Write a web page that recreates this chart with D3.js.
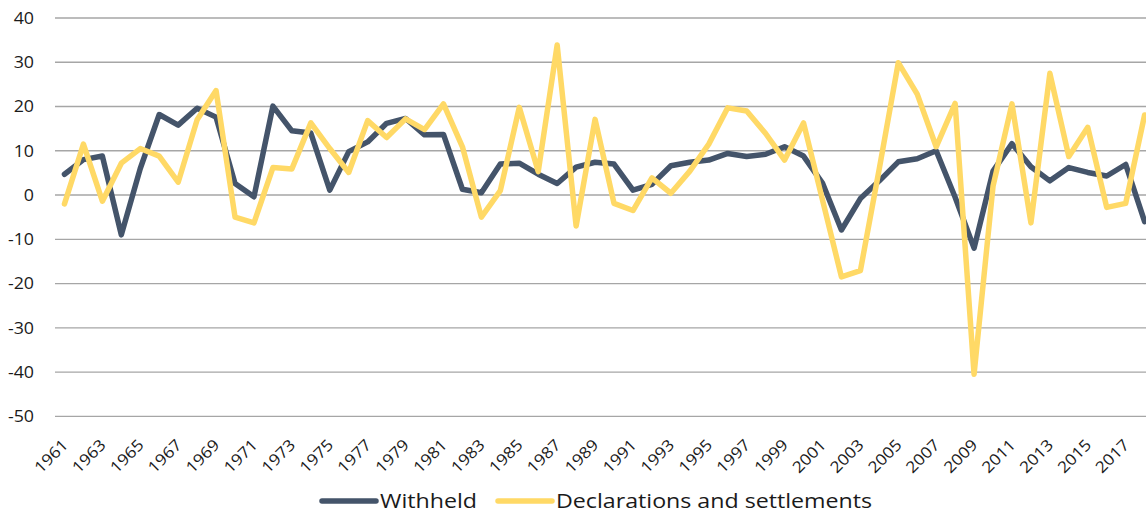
<!DOCTYPE html>
<html>
<head>
<meta charset="utf-8">
<script src="https://cdn.jsdelivr.net/npm/d3@7"></script>
<style>
  html, body { margin: 0; padding: 0; background: #fff; overflow: hidden; }
  svg { display: block; font-family: "Open Sans", "Noto Sans", sans-serif; }
</style>
</head>
<body>
<svg id="chart" width="1146" height="514"></svg>
<script>
const years = d3.range(1961, 2019).map(String);
const withheld = [4.7, 8.0, 8.8, -9.0, 6.0, 18.2, 15.8, 19.6, 17.6, 2.6, -0.4, 20.1, 14.5, 14.0, 1.1, 9.8,
  12.0, 16.2, 17.3, 13.6, 13.7, 1.3, 0.5, 7.0, 7.2, 4.7, 2.6, 6.3, 7.4, 7.0, 1.1, 2.4, 6.6, 7.4, 7.9, 9.4,
  8.7, 9.2, 10.9, 8.8, 2.7, -7.9, -0.8, 3.2, 7.5, 8.2, 10.0, -0.5, -12.0, 5.4, 11.6, 6.4, 3.2, 6.2, 5.1,
  4.3, 6.9, -6.0];
const declarations = [-2.0, 11.5, -1.4, 7.2, 10.5, 8.8, 2.9, 17.0, 23.6, -5.0, -6.3, 6.2, 5.9, 16.3, 10.5,
  5.1, 16.8, 13.0, 17.2, 14.8, 20.6, 10.9, -5.0, 1.0, 19.8, 5.3, 33.9, -7.0, 17.1, -1.9, -3.5, 3.9, 0.4,
  5.4, 11.5, 19.7, 19.0, 13.9, 7.9, 16.3, -1.1, -18.5, -17.1, 6.0, 29.9, 22.8, 10.9, 20.7, -40.5, 2.0,
  20.6, -6.3, 27.5, 8.7, 15.3, -2.8, -1.9, 18.1];
const yTicks = [40, 30, 20, 10, 0, -10, -20, -30, -40, -50];
const seriesNames = ["Withheld", "Declarations and settlements"];
const colors = ["#44546a", "#ffd966"];

const svg = d3.select("#chart");
const left = 55, step = 18.95;
const x = d3.scalePoint().domain(years).range([left, left + years.length * step]).padding(0.5);
const y = d3.scaleLinear().domain([-50, 40]).range([416.3, 18]);

// gridlines
svg.append("g").selectAll("line").data(yTicks).join("line")
  .attr("x1", left).attr("x2", left + years.length * step)
  .attr("y1", d => y(d)).attr("y2", d => y(d))
  .attr("stroke", "#a6a6a6").attr("stroke-width", 1.3);

// y labels
svg.append("g").selectAll("text").data(yTicks).join("text")
  .attr("transform", d => `translate(34,${y(d)}) scale(1.08,1)`)
  .attr("dy", "0.36em")
  .attr("text-anchor", "end").attr("font-size", 16.5).attr("fill", "#1a1a1a")
  .text(d => d);

// x labels
const xLabels = years.filter((d, i) => i % 2 === 0);
svg.append("g").selectAll("text").data(xLabels).join("text")
  .attr("transform", d => `translate(${x(d) + 4.5},${446}) rotate(-45) scale(1.1,1)`)
  .attr("text-anchor", "end").attr("font-size", 15.8).attr("fill", "#1a1a1a")
  .text(d => d);

const line = d3.line().x((d, i) => x(years[i])).y(d => y(d)).curve(d3.curveLinear);
[withheld, declarations].forEach((s, k) => {
  svg.append("path").datum(s).attr("d", line)
    .attr("fill", "none").attr("stroke", colors[k]).attr("stroke-width", 5.5)
    .attr("stroke-linejoin", "round").attr("stroke-linecap", "round");
});

// legend
const lg = svg.append("g");
const legendItems = [{x1: 322, x2: 376, tx: 380}, {x1: 498, x2: 552, tx: 556}];
legendItems.forEach((L, k) => {
  lg.append("line").attr("x1", L.x1).attr("x2", L.x2).attr("y1", 501).attr("y2", 501)
    .attr("stroke", colors[k]).attr("stroke-width", 5.5).attr("stroke-linecap", "round");
  lg.append("text").attr("transform", `translate(${L.tx},508) scale(1.16,1)`)
    .attr("font-size", 20).attr("fill", "#1a1a1a")
    .text(seriesNames[k]);
});
</script>
</body>
</html>
